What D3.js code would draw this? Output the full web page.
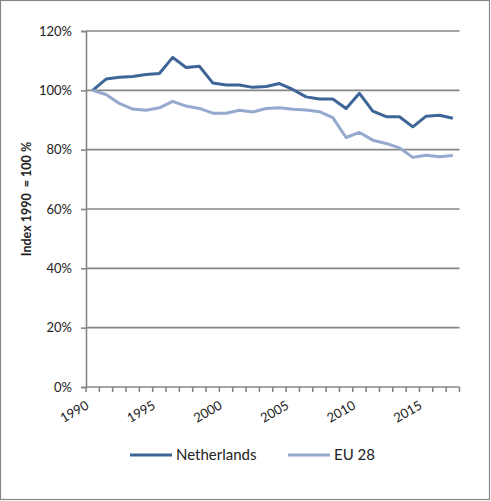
<!DOCTYPE html>
<html>
<head>
<meta charset="utf-8">
<script src="https://cdn.jsdelivr.net/npm/d3@7"></script>
<style>
  html, body { margin: 0; padding: 0; background: #fff; }
  svg { display: block; }
  text { font-family: Lato, "Open Sans", sans-serif; fill: #222; }
</style>
</head>
<body>
<script>
const years = [1990,1991,1992,1993,1994,1995,1996,1997,1998,1999,2000,2001,2002,2003,2004,2005,2006,2007,2008,2009,2010,2011,2012,2013,2014,2015,2016,2017];
const netherlands = [100,103.8,104.4,104.7,105.3,105.7,111.1,107.7,108.1,102.5,101.8,101.8,101.0,101.3,102.3,100.3,97.8,97.1,97.1,93.9,99.0,93.0,91.1,91.1,87.7,91.3,91.6,90.6];
const eu28 = [100,98.6,95.6,93.7,93.3,94.1,96.3,94.7,93.9,92.3,92.3,93.3,92.7,93.9,94.1,93.6,93.4,92.8,90.8,84.1,85.8,83.2,82.1,80.6,77.4,78.1,77.6,78.0];
const yTicks = [0,20,40,60,80,100,120];
const xLabelYears = [1990,1995,2000,2005,2010,2015];
const seriesNames = ["Netherlands","EU 28"];
const yTitle = "Index 1990  = 100 %";

(function(){
const W = 491, H = 501;
const svg = d3.select("body").append("svg").attr("width", W).attr("height", H);

svg.append("rect").attr("x",0.5).attr("y",0.5).attr("width",489).attr("height",499)
  .attr("fill","#fff").attr("stroke","#868686").attr("stroke-width",1.2);

const pLeft = 86, pRight = 459.5, pTop = 31, pBottom = 387;
const x = d3.scaleBand().domain(years).range([pLeft, pRight]).paddingInner(0).paddingOuter(0);
const y = d3.scaleLinear().domain([0,120]).range([pBottom, pTop]);
const cx = d => x(d) + x.bandwidth()/2;

const gridCol = "#868686";

svg.append("g").selectAll("line").data(yTicks.filter(t => t>0)).join("line")
  .attr("x1", pLeft).attr("x2", pRight).attr("y1", d=>y(d)).attr("y2", d=>y(d))
  .attr("stroke", gridCol).attr("stroke-width", 1.6);

const yAxis = d3.axisLeft(y).tickValues(yTicks).tickSize(5).tickPadding(9).tickFormat(d => d + "%");
const gy = svg.append("g").attr("transform", `translate(${pLeft},0)`).call(yAxis);
gy.select(".domain").attr("stroke", gridCol).attr("stroke-width", 1.6);
gy.selectAll(".tick line").attr("stroke", gridCol).attr("stroke-width", 1.6);
gy.selectAll(".tick text").attr("font-size", 13).attr("fill", "#222")
  .style("font-family","Lato, 'Open Sans', sans-serif");

const boundaries = d3.range(years.length + 1).map(i => pLeft + i * x.bandwidth());
const gx = svg.append("g");
gx.append("line").attr("x1", pLeft).attr("x2", pRight).attr("y1", pBottom).attr("y2", pBottom)
  .attr("stroke", gridCol).attr("stroke-width", 1.6);
gx.selectAll("line.tk").data(boundaries).join("line").attr("class","tk")
  .attr("x1", d=>d).attr("x2", d=>d).attr("y1", pBottom).attr("y2", pBottom+5)
  .attr("stroke", gridCol).attr("stroke-width", 1.6);
gx.selectAll("text").data(xLabelYears).join("text")
  .attr("transform", d => `translate(${cx(d)-3},${pBottom+21}) rotate(-30)`)
  .attr("text-anchor","end").attr("font-size", 13).text(d => d);

const line = d3.line().x((d,i) => cx(years[i])).y(d => y(d));
const colors = ["#3D6598", "#95A8CE"];
[netherlands, eu28].forEach((s, k) => {
  svg.append("path").datum(s).attr("d", line).attr("fill","none")
    .attr("stroke", colors[k]).attr("stroke-width", 3).attr("stroke-linejoin","round");
});

svg.append("text").attr("transform", `translate(31,199) rotate(-90)`)
  .attr("text-anchor","middle").attr("font-size", 12.5).attr("font-weight","bold")
  .attr("fill","#000").attr("xml:space","preserve").style("white-space","pre").text(yTitle);

const legX = [130, 288];
seriesNames.forEach((n, k) => {
  svg.append("line").attr("x1", legX[k]).attr("x2", legX[k]+42).attr("y1", 455).attr("y2", 455)
    .attr("stroke", colors[k]).attr("stroke-width", 3);
  svg.append("text").attr("x", legX[k]+46).attr("y", 460).attr("font-size", 15).text(n);
});
})();
</script>
</body>
</html>
